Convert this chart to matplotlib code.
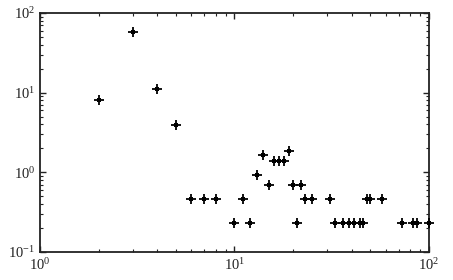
import matplotlib
matplotlib.use("Agg")
import matplotlib.pyplot as plt

plt.rcParams['font.family'] = ['Liberation Serif', 'DejaVu Serif']
plt.rcParams['mathtext.fontset'] = 'custom'
plt.rcParams['mathtext.rm'] = 'Liberation Serif'
plt.rcParams['mathtext.it'] = 'Liberation Serif:italic'

# unit step of the y values
u = 0.2326

x_vals = [2, 3, 4, 5, 6, 7, 8, 10, 11, 12, 13, 14, 15, 16, 17, 18, 19, 20, 21, 22,
          23, 25, 31, 33, 36, 39, 41, 44, 46, 48, 50, 57, 73, 83, 87, 100]
y_counts = [35, 250, 48, 17, 2, 2, 2, 1, 2, 1, 4, 7, 3, 6, 6, 6, 8, 3, 1, 3,
            2, 2, 2, 1, 1, 1, 1, 1, 1, 2, 2, 2, 1, 1, 1, 1]
y_vals = [c * u for c in y_counts]

fig = plt.figure(figsize=(4.53, 2.8), dpi=100)
ax = fig.add_axes([0.0883, 0.1, 0.8587, 0.8536])

ax.plot(x_vals, y_vals, linestyle='none', marker='+', color='black',
        markersize=6.5, markeredgewidth=1.3, clip_on=False, zorder=3)
ax.plot(x_vals, y_vals, linestyle='none', marker='s', color='black',
        markersize=2.5, markeredgewidth=0, clip_on=False, zorder=3)

ax.set_xscale('log')
ax.set_yscale('log')
ax.set_xlim(1, 100)
ax.set_ylim(0.1, 100)

for s in ax.spines.values():
    s.set_linewidth(1.3)
    s.set_color('#222222')
ax.tick_params(which='both', direction='in', top=True, right=True, labelsize=10.5, colors='#222222')
ax.tick_params(which='major', length=4, width=1)
ax.tick_params(which='minor', length=2.5, width=0.8)

fig.savefig("out.png", dpi=100)
